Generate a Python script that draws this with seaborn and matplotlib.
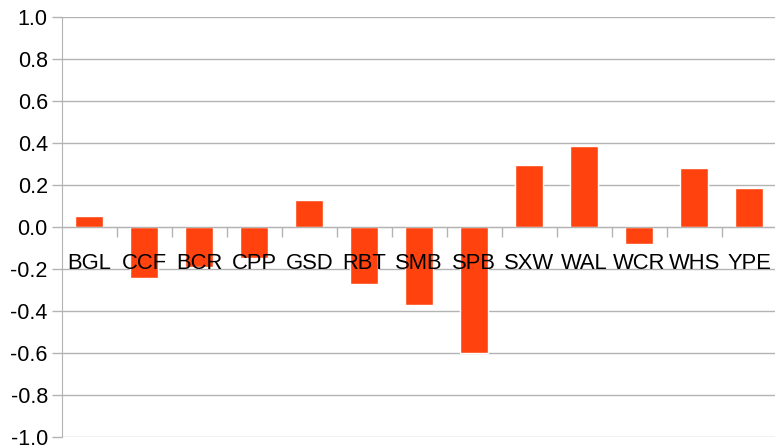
import matplotlib
matplotlib.use('Agg')
import matplotlib.pyplot as plt
import numpy as np
import pandas as pd
import seaborn as sns
from matplotlib.ticker import FixedLocator, FuncFormatter

# Values
sites = ['BGL', 'CCF', 'BCR', 'CPP', 'GSD', 'RBT', 'SMB',
         'SPB', 'SXW', 'WAL', 'WCR', 'WHS', 'YPE']
values = [0.054, -0.245, -0.19, -0.15, 0.13, -0.274, -0.374,
          -0.603, 0.294, 0.388, -0.083, 0.283, 0.188]

df = pd.DataFrame({'site': sites, 'value': values})

sns.set_style('white')
plt.rcParams['font.family'] = ['Liberation Sans', 'DejaVu Sans']
plt.rcParams['axes.unicode_minus'] = False

grey = '#b3b3b3'

fig = plt.figure(figsize=(7.75, 4.48), dpi=100)
ax = fig.add_axes([61.7 / 775, 11.3 / 448, 715 / 775, 419.4 / 448])

sns.barplot(data=df, x='site', y='value', color='#ff420e', width=0.51,
            saturation=1, ax=ax, order=sites, zorder=1)

yticks = np.round(np.arange(-1.0, 1.01, 0.2), 1)
ax.set_xlim(-0.5, len(sites) - 0.5)
ax.set_ylim(-1.0, 1.0)
ax.set_yticks(yticks)
ax.yaxis.set_major_formatter(FuncFormatter(lambda v, p: f'{round(v, 1) + 0.0:.1f}'))
# gridlines behind the bars, axis labels on top of them
ax.set_axisbelow(False)
for t in yticks:
    ax.axhline(t, color=grey, linewidth=1, zorder=0)
ax.set_xlabel('')
ax.set_ylabel('')

for s in ['top', 'right']:
    ax.spines[s].set_visible(False)
ax.spines['left'].set_color(grey)
ax.spines['bottom'].set_color(grey)
ax.spines['bottom'].set_position(('data', 0))

ax.tick_params(axis='y', length=7, width=1, color=grey, labelsize=15.5,
               labelcolor='black', pad=3, left=True)
ax.tick_params(axis='x', which='major', length=0, labelsize=15.8,
               labelcolor='black', pad=19, bottom=True)
ax.xaxis.set_minor_locator(FixedLocator(np.arange(0.5, len(sites) - 1, 1.0)))
ax.tick_params(axis='x', which='minor', length=7, width=1, color=grey,
               direction='out', bottom=True)

fig.savefig('out.png', dpi=100)
